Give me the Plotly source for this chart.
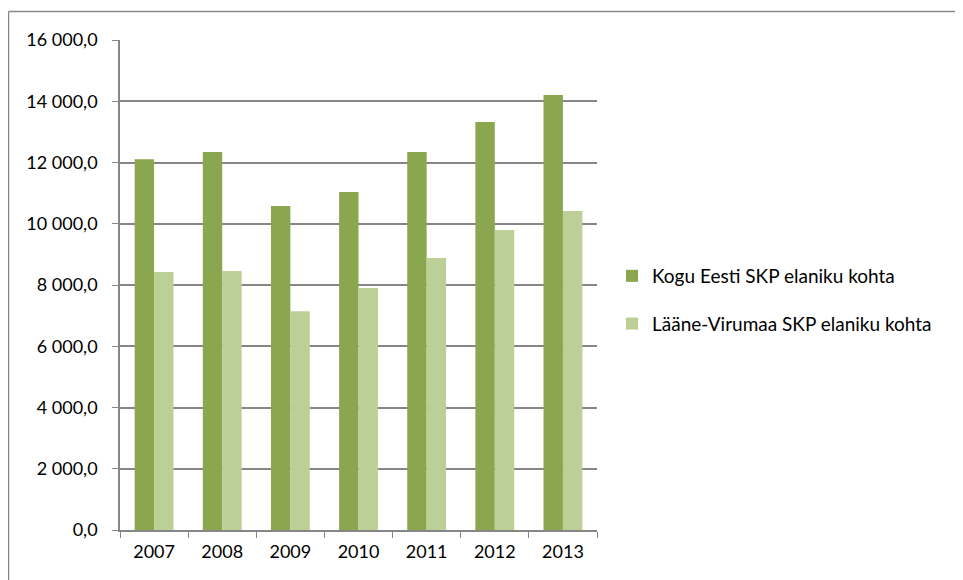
import plotly.graph_objects as go

years = ["2007", "2008", "2009", "2010", "2011", "2012", "2013"]
kogu_eesti = [12104, 12343, 10580, 11037, 12343, 13322, 14204]
laane_virumaa = [8424, 8457, 7141, 7902, 8882, 9796, 10416]
series_names = ["Kogu Eesti SKP elaniku kohta", "Lääne-Virumaa SKP elaniku kohta"]
tick_vals = [0, 2000, 4000, 6000, 8000, 10000, 12000, 14000, 16000]
tick_text = ["0,0", "2 000,0", "4 000,0", "6 000,0", "8 000,0", "10 000,0", "12 000,0", "14 000,0", "16 000,0"]

# page body has an 8px margin; compensate
OFF = 8
W, H = 963, 580
L, R, T, B = 120, 597, 40, 530  # target page coordinates of plot area
FW, FH = W - OFF, H - OFF

fig = go.Figure()
fig.add_trace(go.Bar(x=years, y=kogu_eesti, name=series_names[0], legendgroup="a",
                     marker=dict(color="#8aa64f", line=dict(width=0))))
fig.add_trace(go.Bar(x=years, y=laane_virumaa, name=series_names[1], legendgroup="b",
                     marker=dict(color="#bbcf97", line=dict(width=0))))

font = dict(family="Lato, Open Sans, sans-serif", size=18, color="#000000")

def px(xp):
    return (xp - L) / (R - L)

def py(yp):
    return (B - yp) / (B - T)

fig.update_layout(
    width=FW, height=FH,
    margin=dict(l=L - OFF, r=W - R, t=T - OFF, b=H - B, pad=0),
    paper_bgcolor="white", plot_bgcolor="white",
    barmode="group", bargap=0.43, bargroupgap=0,
    font=font,
    showlegend=True,
    legend=dict(x=px(612), y=py(300), xanchor="left", yanchor="middle",
                font=dict(family="Lato, Open Sans, sans-serif", size=19, color="#000"),
                itemwidth=30, tracegroupgap=20, bgcolor="rgba(0,0,0,0)"),
    xaxis=dict(showgrid=False, showline=True, linecolor="#868686", linewidth=1.5,
               ticks="outside", ticklen=6, tickcolor="#868686", tickson="boundaries",
               ticklabelstandoff=5, tickfont=font, fixedrange=True),
    yaxis=dict(range=[0, 16000], tickvals=tick_vals, ticktext=tick_text,
               showgrid=True, gridcolor="#868686", gridwidth=1.5,
               showline=True, linecolor="#868686", linewidth=1.5,
               ticks="outside", ticklen=6, tickcolor="#868686",
               ticklabelstandoff=11, tickfont=font, zeroline=False, fixedrange=True),
    shapes=[
        dict(type="line", xref="paper", yref="paper",
             x0=px(8.5), x1=px(W + 5), y0=py(11.5), y1=py(11.5),
             line=dict(color="#868686", width=1.5)),
        dict(type="line", xref="paper", yref="paper",
             x0=px(8.5), x1=px(8.5), y0=py(11.5), y1=py(H + 5),
             line=dict(color="#868686", width=1.5)),
    ],
)

fig.write_html("out.html")
